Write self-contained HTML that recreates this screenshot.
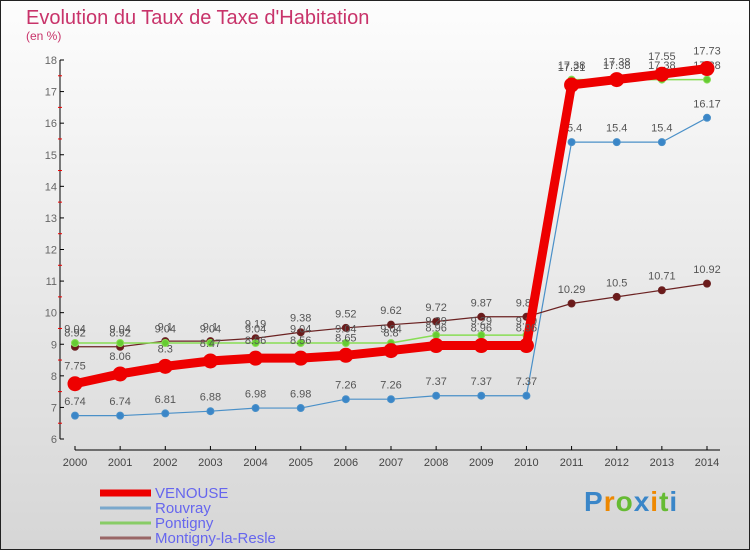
<!DOCTYPE html>
<html><head><meta charset="utf-8"><style>
html,body{margin:0;padding:0;}
body{width:750px;height:550px;overflow:hidden;font-family:"Liberation Sans",sans-serif;}
</style></head><body>
<svg id="chart" width="750" height="550" xmlns="http://www.w3.org/2000/svg">
<defs><linearGradient id="bg" x1="0" y1="0" x2="0" y2="1"><stop offset="0" stop-color="#fdfdfd"/><stop offset="1" stop-color="#d6d6d6"/></linearGradient></defs>
<rect x="0.5" y="0.5" width="749" height="549" fill="url(#bg)" stroke="#222"/>
<text x="26" y="24" font-size="20" fill="#c8336a">Evolution du Taux de Taxe d'Habitation</text>
<text x="26" y="40" font-size="12" fill="#c8336a">(en %)</text>
<g id="axes"></g><g id="series"></g><g id="legend"></g>
</svg>
<script>
const years=[2000,2001,2002,2003,2004,2005,2006,2007,2008,2009,2010,2011,2012,2013,2014];
const venouse=[7.75,8.06,8.3,8.47,8.56,8.56,8.65,8.8,8.96,8.96,8.96,17.21,17.38,17.55,17.73];
const rouvray=[6.74,6.74,6.81,6.88,6.98,6.98,7.26,7.26,7.37,7.37,7.37,15.4,15.4,15.4,16.17];
const pontigny=[9.04,9.04,9.04,9.04,9.04,9.04,9.04,9.04,9.29,9.29,9.29,17.38,17.38,17.38,17.38];
const montigny=[8.92,8.92,9.1,9.1,9.19,9.38,9.52,9.62,9.72,9.87,9.87,10.29,10.5,10.71,10.92];
const yTicks=[6,7,8,9,10,11,12,13,14,15,16,17,18];
const NS="http://www.w3.org/2000/svg";
const X=i=>75+i*(707-75)/(years.length-1);
const Y=v=>439-(v-6)*(439-60)/12;
function mk(tag,attrs,parent,text){const e=document.createElementNS(NS,tag);for(const k in attrs)e.setAttribute(k,attrs[k]);if(text!==undefined)e.textContent=text;parent.appendChild(e);return e;}
const ax=document.getElementById('axes');
let e=mk('line',{x1:60,y1:Y(18),x2:60,y2:Y(6),stroke:'#000'},ax);


yTicks.forEach(t=>{
  mk('line',{x1:60,x2:64,y1:Y(t),y2:Y(t),stroke:'#000'},ax);
  if(t<18)mk('line',{x1:58,x2:62,y1:Y(t+0.5),y2:Y(t+0.5),stroke:'#e00'},ax);
  const l=mk('text',{x:57,y:Y(t)+4,'font-size':11,fill:'#666','text-anchor':'end'},ax,String(t));
  
  
});
e=mk('line',{x1:75,y1:450,x2:720,y2:450,stroke:'#000'},ax);


years.forEach((yr,i)=>{
  mk('line',{x1:X(i),x2:X(i),y1:446,y2:450,stroke:'#000'},ax);
  const l=mk('text',{x:X(i),y:466,'font-size':11,fill:'#444','text-anchor':'middle'},ax,String(yr));
  
  
});
const sg=document.getElementById('series');
function series(name,vals,color,w,r,dot){
  const g=mk('g',{},sg);
  
  
  mk('polyline',{points:vals.map((v,i)=>X(i)+','+Y(v)).join(' '),fill:'none',stroke:color,'stroke-width':w,'stroke-linejoin':'round'},g);
  vals.forEach((v,i)=>{
    const c=mk('circle',{cx:X(i),cy:Y(v),r:r,fill:dot,stroke:color,'stroke-width':1},g);
    
    
    const t=mk('text',{x:X(i),y:Y(v)-7-r,'font-size':11,fill:'#555','text-anchor':'middle'},g,String(v));
    
    
  });
}
series('rouvray',rouvray,'#4a90c8',1.2,3.5,'#3a86c8');
series('montigny',montigny,'#6b2222',1.2,3.5,'#6b1a1a');
series('pontigny',pontigny,'#88dd55',1.5,3.5,'#66cc33');
series('venouse',venouse,'#ee0000',9,7,'#ee0000');
const lg=document.getElementById('legend');
const items=[['VENOUSE','#ee0000',7],['Rouvray','#7aa8cc',3],['Pontigny','#88cc66',3],['Montigny-la-Resle','#996666',3]];
items.forEach((it,i)=>{
  const g=mk('g',{},lg);
  
  
  const y=493+i*15;
  mk('line',{x1:100,x2:151,y1:y,y2:y,stroke:it[1],'stroke-width':it[2]},g);
  mk('text',{x:155,y:y+5,'font-size':15,fill:'#6666ee'},g,it[0]);
});
</script>
<div style="position:absolute;left:584px;top:486px;font:bold 28px 'Liberation Sans',sans-serif;letter-spacing:1px;"><span style="color:#3a86c8">P</span><span style="color:#ee8800">r</span><span style="color:#66bb33">o</span><span style="color:#3a86c8">x</span><span style="color:#ee8800">i</span><span style="color:#66bb33">t</span><span style="color:#3a86c8">i</span></div>
</body></html>
